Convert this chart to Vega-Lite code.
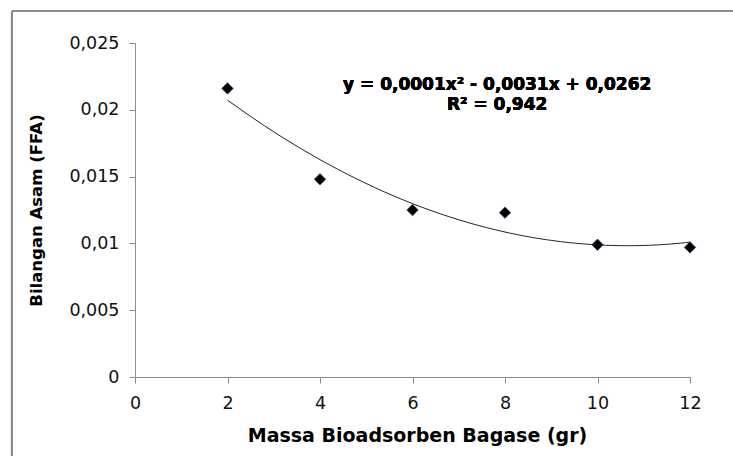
{
  "$schema": "https://vega.github.io/schema/vega-lite/v6.json",
  "width": 555,
  "height": 334,
  "autosize": "none",
  "padding": {"left": 135, "top": 43, "right": 43, "bottom": 79},
  "background": "white",
  "config": {
    "view": {"stroke": null},
    "font": "DejaVu Sans",
    "axis": {
      "grid": false,
      "labelFlush": false,
      "domainColor": "#8c8c8c",
      "tickColor": "#8c8c8c",
      "tickSize": 6,
      "labelFont": "DejaVu Sans",
      "labelFontSize": 17.5,
      "labelColor": "#111111",
      "titleFont": "DejaVu Sans",
      "titleFontWeight": "bold",
      "titleColor": "#000000"
    }
  },
  "data": {
    "values": [
      {"massa": 2, "ffa": 0.0216},
      {"massa": 4, "ffa": 0.0148},
      {"massa": 6, "ffa": 0.0125},
      {"massa": 8, "ffa": 0.0123},
      {"massa": 10, "ffa": 0.0099},
      {"massa": 12, "ffa": 0.0097}
    ]
  },
  "layer": [
    {
      "mark": {"type": "point", "shape": "diamond", "filled": true, "color": "#000000", "stroke": "#2b3f6b", "strokeWidth": 0.8, "size": 130, "opacity": 1},
      "encoding": {
        "x": {
          "field": "massa", "type": "quantitative",
          "scale": {"domain": [0, 12], "nice": false, "zero": false},
          "axis": {"values": [0, 2, 4, 6, 8, 10, 12], "title": "Massa Bioadsorben Bagase (gr)", "titleFontSize": 19, "labelPadding": 11, "titlePadding": 15, "titleX": 282}
        },
        "y": {
          "field": "ffa", "type": "quantitative",
          "scale": {"domain": [0, 0.025], "nice": false, "zero": false},
          "axis": {"values": [0, 0.005, 0.01, 0.015, 0.02, 0.025], "labelExpr": "replace(format(datum.value, '.3~f'), '.', ',')", "title": "Bilangan Asam (FFA)", "titleFontSize": 16.5, "labelPadding": 10, "titlePadding": 24}
        }
      }
    },
    {
      "transform": [{"regression": "ffa", "on": "massa", "method": "poly", "order": 2}],
      "mark": {"type": "line", "color": "#222222", "strokeWidth": 1, "interpolate": "monotone"},
      "encoding": {
        "x": {"field": "massa", "type": "quantitative"},
        "y": {"field": "ffa", "type": "quantitative"}
      }
    },
    {
      "mark": {"type": "text", "text": "y = 0,0001x² - 0,0031x + 0,0262", "font": "DejaVu Sans", "fontSize": 17, "fontWeight": "bold", "align": "center", "baseline": "alphabetic", "fill": "#000000"},
      "encoding": {
        "x": {"datum": 7.83, "type": "quantitative"},
        "y": {"datum": 0.02148, "type": "quantitative"}
      }
    },
    {
      "mark": {"type": "text", "text": "R² = 0,942", "font": "DejaVu Sans", "fontSize": 17, "fontWeight": "bold", "align": "center", "baseline": "alphabetic", "fill": "#000000"},
      "encoding": {
        "x": {"datum": 7.83, "type": "quantitative"},
        "y": {"datum": 0.01999, "type": "quantitative"}
      }
    },
    {
      "mark": {"type": "rule", "color": "#8a8a8a", "strokeWidth": 2},
      "encoding": {
        "x": {"datum": -2.66, "type": "quantitative"},
        "y": {"datum": 0.0274, "type": "quantitative"},
        "y2": {"datum": -0.0065}
      }
    },
    {
      "mark": {"type": "rule", "color": "#8a8a8a", "strokeWidth": 2},
      "encoding": {
        "x": {"datum": -2.66, "type": "quantitative"},
        "x2": {"datum": 13.2},
        "y": {"datum": 0.0274, "type": "quantitative"}
      }
    }
  ]
}
